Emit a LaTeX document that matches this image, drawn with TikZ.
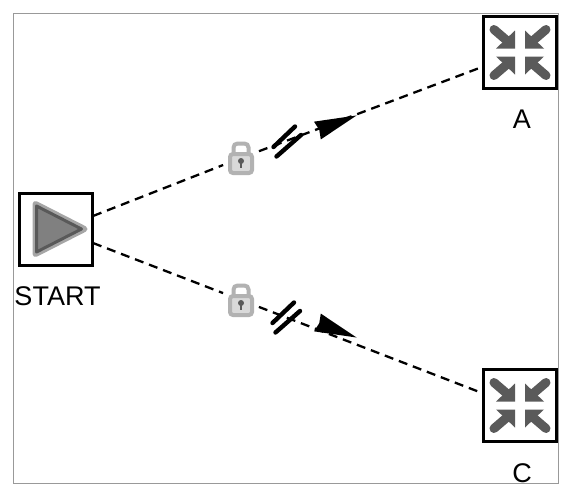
\documentclass[tikz,border=0pt]{standalone}
\usepackage{fontspec}
\setmainfont{Liberation Sans}
\usetikzlibrary{positioning, calc}
\definecolor{icongray}{HTML}{5A5A5A}
\tikzstyle{iconbox} = [rectangle, minimum width=73pt, minimum height=72pt, inner sep=0pt, draw=black, line width=3pt]
\tikzstyle{caption} = [inner sep=0pt, font=\fontsize{27}{27}\selectfont, xshift=2pt]
\tikzstyle{lockspot} = [circle, minimum size=38pt, inner sep=0pt, fill=white]
\tikzstyle{link} = [line width=2.3pt, dash pattern=on 9pt off 6pt]
\tikzset{
  pics/mergeicon/.style={code={
    \foreach \sx in {-1,1} \foreach \sy in {-1,1} {
      \begin{scope}[xscale=\sx, yscale=\sy]
        \fill[icongray] (5,4) -- (24,4) -- (5,22) -- cycle;
        \draw[icongray, line width=9pt, line cap=round] (12,11) -- (26,23);
      \end{scope}
    }
  }},
  pics/playicon/.style={code={
    \draw[line width=6pt, line join=round, draw=black!35] (-20,-25) -- (29,0) -- (-20,25) -- cycle;
    \draw[line width=3pt, line join=round, draw=black!65, fill=black!50] (-19,-23) -- (26,0) -- (-19,23) -- cycle;
  }},
  pics/lockicon/.style={code={
    \draw[line width=4pt, draw=black!30, rounded corners=4pt] (-7.5,-4) -- (-7.5,-14.5) -- (7.5,-14.5) -- (7.5,-4);
    \draw[line width=4pt, draw=black!30, fill=black!15, rounded corners=3pt] (-11,-4) rectangle (11,15);
    \fill[icongray] (0,3) circle (3);
    \draw[icongray, line width=2.5pt] (0,3) -- (0,10);
  }},
  pics/breakmark/.style={code={
    \draw[black, line width=4.4pt, line cap=round] (9,-14.5) -- (-12.5,6);
    \draw[black, line width=4.4pt, line cap=round] (15,-6) -- (-9.5,15.5);
  }},
  pics/linehead/.style={code={
    \fill[black] (21,0) -- (-21,-9.5) -- (-19,0) -- (-21,9.5) -- cycle;
  }}
}
\begin{document}
\begin{tikzpicture}[x=1pt, y=-1pt]
  \useasboundingbox (0,0) rectangle (566,493);
  \draw [draw=black!40, line width=1pt] (13,13) rectangle (558,483);

  %nodes
  \node (start) [iconbox] at (55.5,229) {};
  \node (mergeA) [iconbox] at (520,52.5) {};
  \node (mergeC) [iconbox] at (520,405.5) {};
  \node (startname) [caption, below=20pt of start] {START};
  \node (nameA) [caption, below=20pt of mergeA] {A};
  \node (nameC) [caption, below=20pt of mergeC] {C};
  \coordinate (startup) at (93,216);
  \coordinate (startdown) at (93,243);
  \coordinate (endA) at (482,67);
  \coordinate (endC) at (482,393);
  \node (lockA) [lockspot] at (241,158) {};
  \node (lockC) [lockspot] at (241,300) {};

  %connectors
  \draw [link] (startup) -- (lockA);
  \draw [link] (lockA) -- (endA);
  \draw [link] (startdown) -- (lockC);
  \draw [link] (lockC) -- (endC);

  %icons
  \pic at (start) {playicon};
  \pic at (mergeA) {mergeicon};
  \pic at (mergeC) {mergeicon};
  \pic at (lockA) {lockicon};
  \pic at (lockC) {lockicon};
  \pic at (286,141) {breakmark};
  \pic at (285,317) {breakmark};
  \pic [rotate=21] at (337,123) {linehead};
  \pic [rotate=-21] at (337,330) {linehead};
\end{tikzpicture}
\end{document}
